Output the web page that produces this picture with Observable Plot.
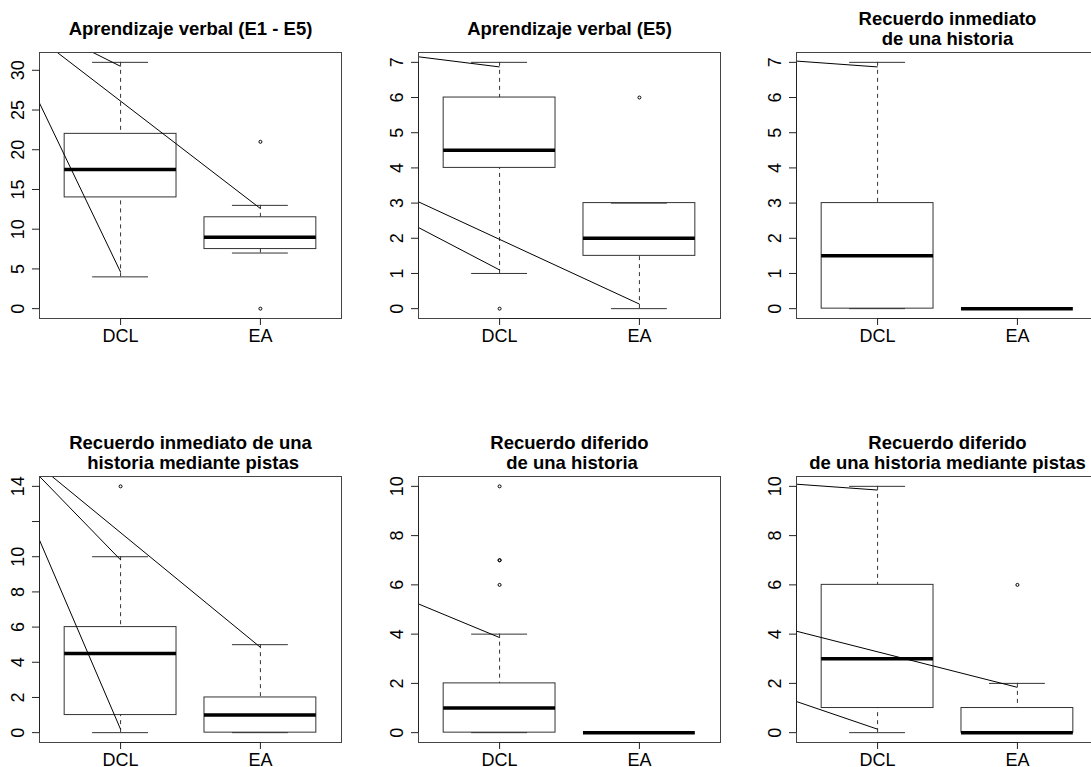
<!DOCTYPE html>
<html>
<head>
<meta charset="utf-8">
<script src="https://cdn.jsdelivr.net/npm/d3@7"></script>
<script src="https://cdn.jsdelivr.net/npm/@observablehq/plot@0.6"></script>
<style>
  html, body { margin: 0; padding: 0; background: #fff; overflow: hidden; }
  #grid { position: relative; width: 1091px; height: 767px; overflow: hidden; background: #fff; }
  .panel { position: absolute; width: 380px; height: 358px; }
  .panel svg { max-width: none !important; display: block; }
</style>
</head>
<body>
<div id="grid"></div>
<script>
// Groups compared in every panel
const groups = ["DCL", "EA"];
const groupPos = [1, 2];

// Panel titles (row by row)
const titles = [
  "Aprendizaje verbal (E1 - E5)",
  "Aprendizaje verbal (E5)",
  "Recuerdo inmediato\nde una historia",
  "Recuerdo inmediato de una\n historia mediante pistas",
  "Recuerdo diferido\n de una historia",
  "Recuerdo diferido\nde una historia mediante pistas"
];

// Five-number summaries per panel: [DCL, EA]
const lowerWhisker = [[4, 7],    [1, 0],   [0, 0],   [0, 0],   [0, 0], [0, 0]];
const lowerHinge   = [[14, 7.5], [4, 1.5], [0, 0],   [1, 0],   [0, 0], [1, 0]];
const medians      = [[17.5, 9], [4.5, 2], [1.5, 0], [4.5, 1], [1, 0], [3, 0]];
const upperHinge   = [[22, 11.5],[6, 3],   [3, 0],   [6, 2],   [2, 0], [6, 1]];
const upperWhisker = [[31, 13],  [7, 3],   [7, 0],   [10, 5],  [4, 0], [10, 2]];

// Outlying observations per panel: [DCL values, EA values]
const outliers = [
  [[], [21, 0]],
  [[0], [6]],
  [[], []],
  [[14], []],
  [[6, 7, 7, 10], []],
  [[], [6]]
];

// Y-axis ticks and their labels per panel (null = tick without label)
const yTicks = [
  [0, 5, 10, 15, 20, 25, 30],
  [0, 1, 2, 3, 4, 5, 6, 7],
  [0, 1, 2, 3, 4, 5, 6, 7],
  [0, 2, 4, 6, 8, 10, 12, 14],
  [0, 2, 4, 6, 8, 10],
  [0, 2, 4, 6, 8, 10]
];
const yTickLabels = [
  ["0", "5", "10", "15", "20", "25", "30"],
  ["0", "1", "2", "3", "4", "5", "6", "7"],
  ["0", "1", "2", "3", "4", "5", "6", "7"],
  ["0", "2", "4", "6", "8", "10", null, "14"],
  ["0", "2", "4", "6", "8", "10"],
  ["0", "2", "4", "6", "8", "10"]
];

// Stray pointer lines: a common start point and the whisker ends they reach (data units)
const pointerOrigin = [[0.07, 38.7], [-2.65, 8.68], [-5.36, 8.69], [0.07, 17.43], [-2.65, 12.45], [-5.36, 12.45]];
const pointerTargets = [
  [[1, 30.5], [1, 4.6], [2, 12.6]],
  [[1, 6.87], [1, 1.1], [2, 0.13]],
  [[1, 6.87]],
  [[1, 9.82], [1, 0.19], [2, 4.85]],
  [[1, 3.86]],
  [[1, 9.85], [1, 0.14], [2, 1.84]]
];

// Layout of the 2 x 3 grid
const colLeft = [-1, 378, 756];
const rowTop = [0, 424];
const ink = "#333";
const boxHalf = 0.4, stapleHalf = 0.2;

function panel(k) {
  const rows = groups.map((g, i) => ({
    x: groupPos[i],
    lo: lowerWhisker[k][i], q1: lowerHinge[k][i], med: medians[k][i],
    q3: upperHinge[k][i], hi: upperWhisker[k][i]
  }));
  const pts = outliers[k].flatMap((vals, i) => vals.map(v => ({x: groupPos[i], y: v})));
  const [ox, oy] = pointerOrigin[k];
  const links = pointerTargets[k].map(([x, y]) => ({x1: ox, y1: oy, x2: x, y2: y}));
  const values = [...rows.flatMap(r => [r.lo, r.hi]), ...pts.map(p => p.y)];
  const vmin = Math.min(...values), vmax = Math.max(...values);
  const pad = 0.04 * (vmax - vmin);
  const yDomain = [vmin - pad, vmax + pad];
  const xDomain = [0.42, 2.58];
  const ticks = yTicks[k];
  const tickRows = ticks.map((t, i) => ({y: t, label: yTickLabels[k][i]}));

  return Plot.plot({
    width: 380, height: 358,
    marginLeft: 40, marginRight: 38, marginTop: 52, marginBottom: 40,
    x: {domain: xDomain, axis: null},
    y: {domain: yDomain, axis: null},
    style: {fontFamily: "'Liberation Sans', Arial, sans-serif", background: "white", overflow: "visible", whiteSpace: "pre", color: "black"},
    marks: [
      // dashed whiskers, drawn from the whisker end towards the box
      Plot.ruleX(rows, {x: "x", y1: "hi", y2: "q3", stroke: ink, strokeDasharray: "4,4"}),
      Plot.ruleX(rows, {x: "x", y1: "lo", y2: "q1", stroke: ink, strokeDasharray: "4,4"}),
      // staples
      Plot.ruleY(rows, {y: "hi", x1: d => d.x - stapleHalf, x2: d => d.x + stapleHalf, stroke: ink}),
      Plot.ruleY(rows, {y: "lo", x1: d => d.x - stapleHalf, x2: d => d.x + stapleHalf, stroke: ink}),
      // boxes
      Plot.rect(rows, {x1: d => d.x - boxHalf, x2: d => d.x + boxHalf, y1: "q1", y2: "q3", fill: "none", stroke: ink}),
      // medians
      Plot.ruleY(rows, {y: "med", x1: d => d.x - boxHalf, x2: d => d.x + boxHalf, stroke: "black", strokeWidth: 3.5}),
      // outliers
      Plot.dot(pts, {x: "x", y: "y", r: 1.5, stroke: "black", strokeWidth: 1, fill: "none"}),
      // pointer lines
      Plot.link(links, {x1: "x1", y1: "y1", x2: "x2", y2: "y2", stroke: "black", strokeWidth: 1, clip: true}),
      // plot box
      Plot.frame({stroke: "#444"}),
      // axis lines between first and last tick
      Plot.ruleY([yDomain[0]], {x1: groupPos[0], x2: groupPos[groupPos.length - 1], stroke: "#222"}),
      Plot.ruleX([xDomain[0]], {y1: ticks[0], y2: ticks[ticks.length - 1], stroke: "#222"}),
      // y ticks (marks only) and rotated labels
      Plot.axisY(ticks, {anchor: "left", tickSize: 7, fill: "none", stroke: "#222", label: null}),
      Plot.text(tickRows, {y: "y", text: "label", frameAnchor: "left", dx: -21, rotate: -90,
        textAnchor: "middle", lineAnchor: "middle", fontSize: 18, fill: "black"}),
      // x ticks and group labels
      Plot.axisX(groupPos, {anchor: "bottom", tickSize: 7, tickPadding: 3.5, stroke: "#222",
        tickFormat: (d, i) => groups[i], fontSize: 18, label: null}),
      // title
      Plot.text([titles[k]], {text: d => d, frameAnchor: "top", dy: -24, lineAnchor: "middle",
        lineHeight: 1.1, fontWeight: "bold", fontSize: 18.5, fill: "black"})
    ]
  });
}

const grid = document.getElementById("grid");
for (let k = 0; k < 6; ++k) {
  const div = document.createElement("div");
  div.className = "panel";
  div.style.left = colLeft[k % 3] + "px";
  div.style.top = rowTop[Math.floor(k / 3)] + "px";
  div.appendChild(panel(k));
  grid.appendChild(div);
}
</script>
</body>
</html>
